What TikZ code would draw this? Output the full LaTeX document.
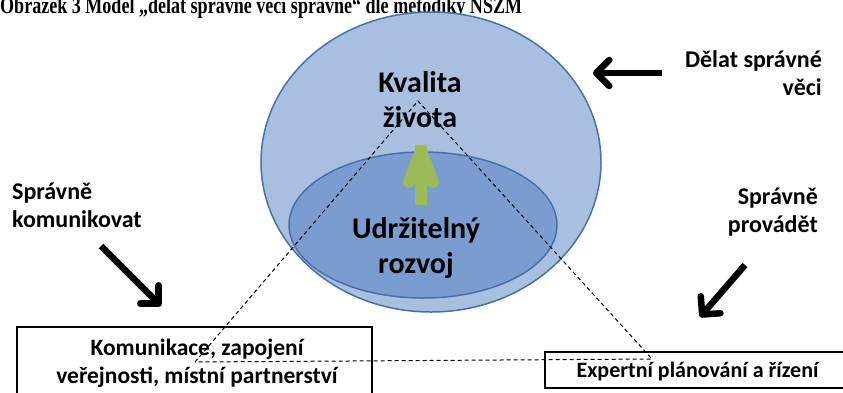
\documentclass[tikz,border=0pt]{standalone}
\usepackage{fontspec}
\usepackage{graphicx}
\setmainfont{Liberation Serif}
\setsansfont{Carlito}
\usetikzlibrary{arrows.meta, positioning}

\definecolor{outerblue}{RGB}{168,191,224}
\definecolor{innerblue}{RGB}{122,156,207}
\definecolor{rimblue}{RGB}{72,112,170}
\definecolor{leafgreen}{RGB}{155,187,89}

\tikzset{
  bigtext/.style={font=\sffamily\bfseries\fontsize{30}{35}\selectfont, align=center, inner sep=0pt},
  sidetext/.style={font=\sffamily\bfseries\fontsize{24}{28}\selectfont, inner sep=0pt},
  boxtext/.style={font=\sffamily\bfseries\fontsize{22}{28}\selectfont, align=center, inner sep=0pt},
  framebox/.style={draw=black, line width=2pt, inner sep=0pt},
  pointer/.style={line width=6.5pt, -{Straight Barb[length=13pt, width=26pt, round]}},
  growth/.style={leafgreen, line width=12pt},
  guide/.style={dash pattern=on 4pt off 3pt, line width=1pt},
}

\begin{document}
\begin{tikzpicture}[x=1pt, y=-1pt]
  \useasboundingbox (0,0) rectangle (843,392);
  % title, cut off by the page edge
  \node[anchor=base west, inner sep=0pt, font=\bfseries\fontsize{19}{22}\selectfont] (title) at (0,13)
    {\scalebox{0.95}[1.25]{Obrázek 3 Model „dělat správné věci správně“ dle metodiky NSZM}};
  % ellipses
  \draw[fill=outerblue, draw=rimblue, line width=1.5pt] (431,162) ellipse [x radius=170, y radius=150];
  \draw[fill=innerblue, draw=rimblue, line width=1.5pt] (423,225) ellipse [x radius=134, y radius=73];
  % growth arrow
  \coordinate (growbase) at (421,205);
  \coordinate (growtip) at (421,151);
  \coordinate (growleft) at (409,182);
  \coordinate (growright) at (433,182);
  \draw[growth] (growbase) -- ([yshift=6pt]growtip);
  \draw[growth, line cap=round, line join=round] (growleft) -- (growtip) -- (growright);
  \node[bigtext, anchor=base] (quality) at (420,127) {Kvalita\\života};
  \node[bigtext, anchor=base] (sustain) at (416,273) {Udržitelný\\rozvoj};
  % boxes
  \node[framebox, minimum width=355, minimum height=72] (commbox) at (194.5,363) {};
  \node[boxtext, font=\sffamily\bfseries\fontsize{23.5}{28}\selectfont, anchor=base] (commtext) at (197,383)
    {Komunikace, zapojení\\veřejnosti, místní partnerství};
  \node[framebox, minimum width=305, minimum height=36] (expbox) at (697.5,370) {};
  \node[boxtext, anchor=base] (exptext) at (697.5,377) {Expertní plánování a řízení};
  % dashed triangle
  \coordinate (apex) at (418,101);
  \coordinate (lcorner) at (195,362);
  \coordinate (rcorner) at (652,359);
  \draw[guide] (lcorner) -- (apex) -- (rcorner) -- (lcorner);
  % side labels
  \node[sidetext, align=right, anchor=base east] (doright) at (822,95) {Dělat správné\\věci};
  \node[sidetext, align=left, anchor=base west] (talkright) at (12,227) {Správně\\komunikovat};
  \node[sidetext, align=right, anchor=base east] (actright) at (818,232) {Správně\\provádět};
  \coordinate (dostart) at (662,73);
  \coordinate (doend) at (593,73);
  \coordinate (talkstart) at (101,246);
  \coordinate (talkend) at (161,306);
  \coordinate (actstart) at (745,265);
  \coordinate (actend) at (700,317);
  \draw[pointer] (dostart) -- (doend);
  \draw[pointer] (talkstart) -- (talkend);
  \draw[pointer] (actstart) -- (actend);
\end{tikzpicture}
\end{document}
